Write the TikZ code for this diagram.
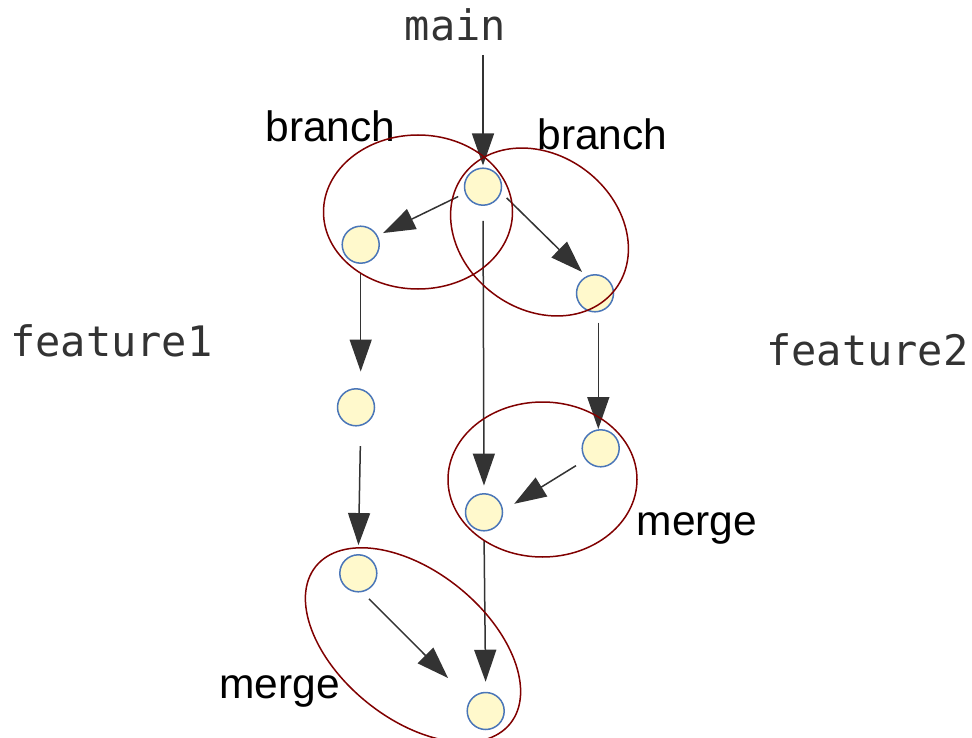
\documentclass[tikz,border=0pt]{standalone}
\usepackage{fontspec}
\setmainfont{Liberation Sans}
\newfontfamily\codefont{DejaVu Sans Mono}
\usetikzlibrary{arrows.meta,shapes.geometric}
\definecolor{commitfill}{HTML}{FFF9CC}
\definecolor{commitline}{HTML}{4A76B8}
\definecolor{groupline}{HTML}{800000}
\definecolor{edgeline}{HTML}{333333}
\definecolor{reflabel}{HTML}{333333}

\begin{document}
\begin{tikzpicture}[x=1pt,y=-1pt,
  commit/.style={circle,draw=commitline,fill=commitfill,line width=1.5pt,
                 minimum size=37pt,inner sep=0pt},
  group/.style={ellipse,draw=groupline,line width=1.5pt,inner sep=0pt},
  edge/.style={draw=edgeline,line width=1.5pt,-{Triangle[length=32pt,width=22pt]}},
  reflbl/.style={font=\codefont\fontsize{42}{50}\selectfont,text=reflabel,
                 anchor=base,inner sep=0pt},
  oplbl/.style={font=\fontsize{42.5}{50}\selectfont,text=black,anchor=base,inner sep=0pt}]

% canvas
\useasboundingbox (0,0) rectangle (972,738);
\clip (0,0) rectangle (972,738);

% branch names and operations
\node[reflbl] (mainlbl) at (455.3,40.7) {main};
\node[reflbl] (f1lbl) at (111.3,356.7) {feature1};
\node[reflbl] (f2lbl) at (867.3,365.7) {feature2};
\node[oplbl] (brA) at (330.5,141.7) {branch};
\node[oplbl] (brB) at (602.5,150) {branch};
\node[oplbl] (mgA) at (697,535) {merge};
\node[oplbl] (mgB) at (279.7,698.3) {merge};

% commits
\node[commit] (A) at (483,186.7) {};
\node[commit] (B) at (360.7,244.7) {};
\node[commit] (C) at (595,293.3) {};
\node[commit] (D) at (356,407.3) {};
\node[commit] (E) at (600.7,448.3) {};
\node[commit] (F) at (484,512.3) {};
\node[commit] (G) at (358.3,573.3) {};
\node[commit] (H) at (485.7,711) {};

% history
\coordinate (mainTail) at (483,55);
\draw[edge,shorten >=2pt] (mainTail) -- (A);
\draw[edge,shorten <=7.5pt,shorten >=6pt] (A.200) -- (B.28);
\draw[edge,shorten <=7.5pt,shorten >=6pt] (A.-18) -- (C.117);
\draw[edge,shorten <=15pt,shorten >=7.5pt] (A.south) -- (F.north);
\draw[edge,shorten <=9.5pt,shorten >=16.5pt] (B.south) -- (B.south |- D.north);
\draw[edge,shorten <=19.5pt,shorten >=9pt] (D.south -| B) -- (G.north);
\draw[edge,shorten <=10pt] ([xshift=3.3pt]C.south) -- ([xshift=-2.4pt]E.north);
\draw[edge,shorten <=11pt,shorten >=13pt] (E.217) -- (F.5);
\draw[edge,shorten <=8.5pt,shorten >=10pt] (F.south) -- (H.north);
\draw[edge,shorten <=9.5pt,shorten >=31pt] (G.-78) -- (H.145);

% operation outlines
\node[group,minimum width=189pt,minimum height=154pt] (gBranchA) at (418,212) {};
\node[group,minimum width=190pt,minimum height=154pt,rotate=-37] (gBranchB) at (539.5,232) {};
\node[group,minimum width=189pt,minimum height=155pt] (gMergeA) at (542.5,479.5) {};
\node[group,minimum width=250pt,minimum height=147pt,rotate=-39] (gMergeB) at (413,645) {};
\end{tikzpicture}
\end{document}
